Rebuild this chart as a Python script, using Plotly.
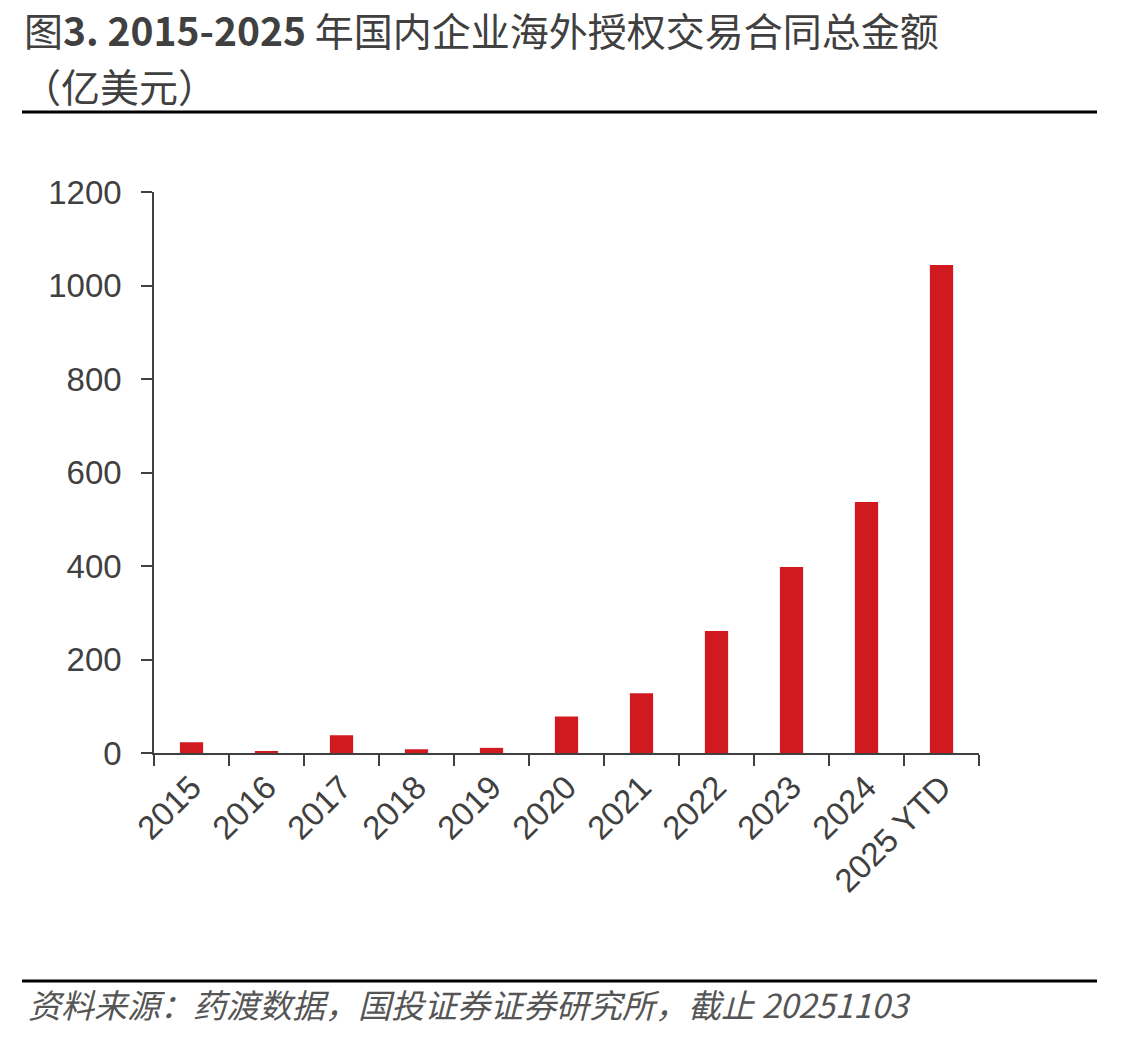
import plotly.graph_objects as go

categories = ["2015", "2016", "2017", "2018", "2019", "2020", "2021", "2022", "2023", "2024", "2025 YTD"]
values = [23, 4, 38, 8, 11, 78, 128, 261, 398, 537, 1044]
y_ticks = [0, 200, 400, 600, 800, 1000, 1200]

W, H = 1145, 1039
ML, MR, MT, MB = 154, 166, 192, 286
PW, PH = W - ML - MR, H - MT - MB

def px_x(x):
    return (x - ML) / PW

def px_y(y):
    return (H - MB - y) / PH

TEXT = "#404040"
FONT = "Liberation Sans, Arial, sans-serif"
CJK = "Noto Sans CJK SC, sans-serif"

fig = go.Figure(go.Bar(x=categories, y=values, marker=dict(color="#D11920", line=dict(width=0))))

fig.update_layout(
    width=W, height=H,
    margin=dict(l=ML, r=MR, t=MT, b=MB),
    paper_bgcolor="white", plot_bgcolor="white",
    bargap=0.69,
    showlegend=False,
    xaxis=dict(
        type="category",
        showline=True, linecolor=TEXT, linewidth=1.5,
        ticks="outside", ticklen=11, tickwidth=1.5, tickcolor=TEXT,
        tickson="boundaries",
        tickangle=-45,
        tickfont=dict(family=FONT, size=33, color=TEXT),
        showgrid=False, zeroline=False,
    ),
    yaxis=dict(
        range=[0, 1200],
        tickvals=y_ticks,
        showline=True, linecolor=TEXT, linewidth=1.5,
        ticks="outside", ticklen=11, tickwidth=1.5, tickcolor=TEXT,
        tickfont=dict(family=FONT, size=33, color=TEXT),
        ticklabelstandoff=13,
        showgrid=False, zeroline=False,
    ),
)

# Title line 1
fig.add_annotation(
    xref="paper", yref="paper", x=px_x(22), y=px_y(29),
    xanchor="left", yanchor="middle", showarrow=False,
    text="图<b>3. 2015-2025</b> 年国内企业海外授权交易合同总金额",
    font=dict(family=CJK, size=39, color=TEXT),
)
# Title line 2
fig.add_annotation(
    xref="paper", yref="paper", x=px_x(20), y=px_y(85),
    xanchor="left", yanchor="middle", showarrow=False,
    text="（亿美元）",
    font=dict(family=CJK, size=39, color=TEXT),
)
# Footer
fig.add_annotation(
    xref="paper", yref="paper", x=px_x(26), y=px_y(1004),
    xanchor="left", yanchor="middle", showarrow=False,
    text="<i>资料来源：药渡数据，国投证券证券研究所，截止 20251103</i>",
    font=dict(family=CJK, size=33, color="#555555"),
)

# Rules
for yy in (112, 981):
    fig.add_shape(
        type="line", xref="paper", yref="paper",
        x0=px_x(22), x1=px_x(1097), y0=px_y(yy), y1=px_y(yy),
        line=dict(color="black", width=3),
    )

fig.write_html("out.html")
